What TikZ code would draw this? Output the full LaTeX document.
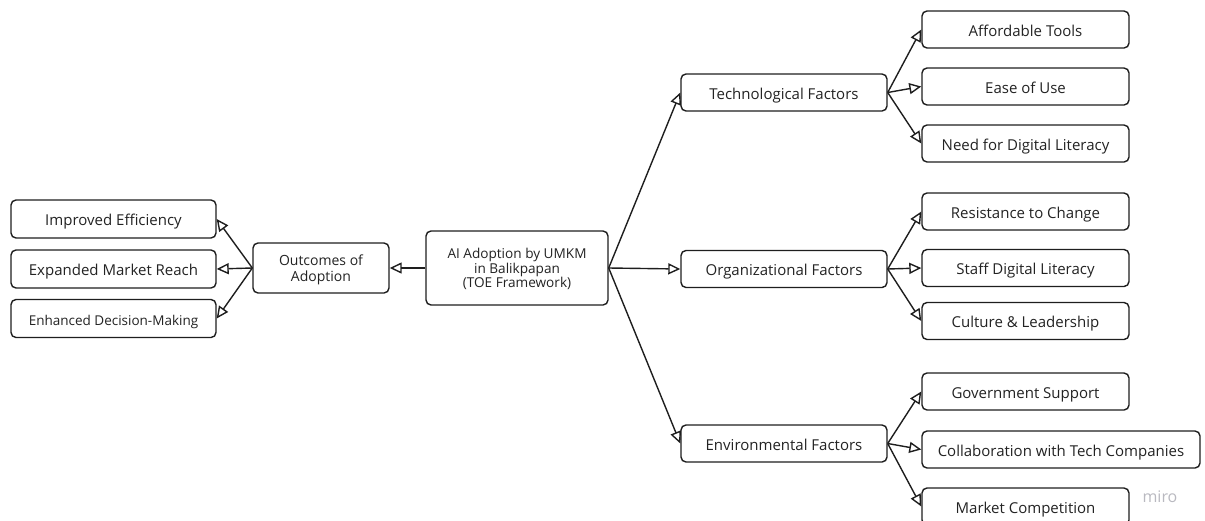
\documentclass[tikz,border=0pt]{standalone}
\usepackage{xcolor}
\usepackage{fontspec}
\setmainfont{Open Sans}
\usepackage{tikz}
\usetikzlibrary{shapes,arrows.meta,positioning,calc}
\definecolor{MiroInk}{RGB}{30, 30, 30}
\definecolor{MiroText}{RGB}{35, 35, 35}
\definecolor{MiroMark}{RGB}{185, 185, 192}

\begin{document}
\begin{tikzpicture}[x=1pt, y=-1pt, font=\fontsize{15}{17}\selectfont]
  \tikzstyle{box} = [rectangle, draw=MiroInk, fill=white, text=MiroText, rounded corners=5pt, line width=1.4pt, inner sep=2pt, align=center]
  \tikzstyle{leaf} = [box, minimum width=207pt, minimum height=37pt, text height=17pt, text depth=3.6pt]
  \tikzstyle{factor} = [leaf, minimum width=206pt]
  \tikzstyle{outcome} = [leaf, minimum width=205pt, minimum height=38pt]
  \tikzstyle{hub} = [box, minimum width=182pt, minimum height=74pt]
  \tikzstyle{link} = [draw=MiroInk, line width=1.4pt, -{Triangle[open, length=12pt, width=11pt]}]

  \useasboundingbox (0,0) rectangle (1205,520);

  % centre and outcomes
  \node [hub, font=\fontsize{13.6}{14.6}\selectfont, text depth=-0.7pt] (ai) at (517,268) {AI Adoption by UMKM\\in Balikpapan\\(TOE Framework)};
  \node [box, minimum width=136pt, minimum height=50pt, font=\fontsize{14}{15.5}\selectfont, text depth=-4.6pt] (outc) at (321,268) {Outcomes of\\Adoption};
  \node [outcome] (eff) at (113.5,219) {Improved Efficiency};
  \node [outcome] (reach) at (113.5,269) {Expanded Market Reach};
  \node [outcome, font=\fontsize{13.5}{15}\selectfont] (decide) at (113.5,318.5) {Enhanced Decision-Making};

  % TOE factors
  \node [factor] (tech) at (784,92.5) {Technological Factors};
  \node [factor] (org) at (784,269) {Organizational Factors};
  \node [factor] (env) at (784,443.5) {Environmental Factors};

  \node [leaf] (tools) at (1025.5,29.5) {Affordable Tools};
  \node [leaf] (ease) at (1025.5,86.5) {Ease of Use};
  \node [leaf] (needlit) at (1025.5,143.5) {Need for Digital Literacy};
  \node [leaf] (resist) at (1025.5,211.5) {Resistance to Change};
  \node [leaf] (stafflit) at (1025.5,268) {Staff Digital Literacy};
  \node [leaf] (culture) at (1025.5,321) {Culture \& Leadership};
  \node [leaf] (gov) at (1025.5,391.5) {Government Support};
  \node [leaf, minimum width=278pt] (collab) at (1061,449.5) {Collaboration with Tech Companies};
  \node [leaf] (market) at (1025.5,506.5) {Market Competition};

  \node [text=MiroMark, font=\fontsize{16}{18}\selectfont] (miro) at (1160,497) {miro};

  % connectors
  \draw [link] (ai.west) -- (outc.east);
  \foreach \n in {eff,reach,decide}
    \draw [link] (outc.west) -- (\n.east);
  \foreach \n in {tech,org,env}
    \draw [link] (ai.east) -- (\n.west);
  \foreach \n in {tools,ease,needlit}
    \draw [link] (tech.east) -- (\n.west);
  \foreach \n in {resist,stafflit,culture}
    \draw [link] (org.east) -- (\n.west);
  \foreach \n in {gov,collab,market}
    \draw [link] (env.east) -- (\n.west);
\end{tikzpicture}
\end{document}
